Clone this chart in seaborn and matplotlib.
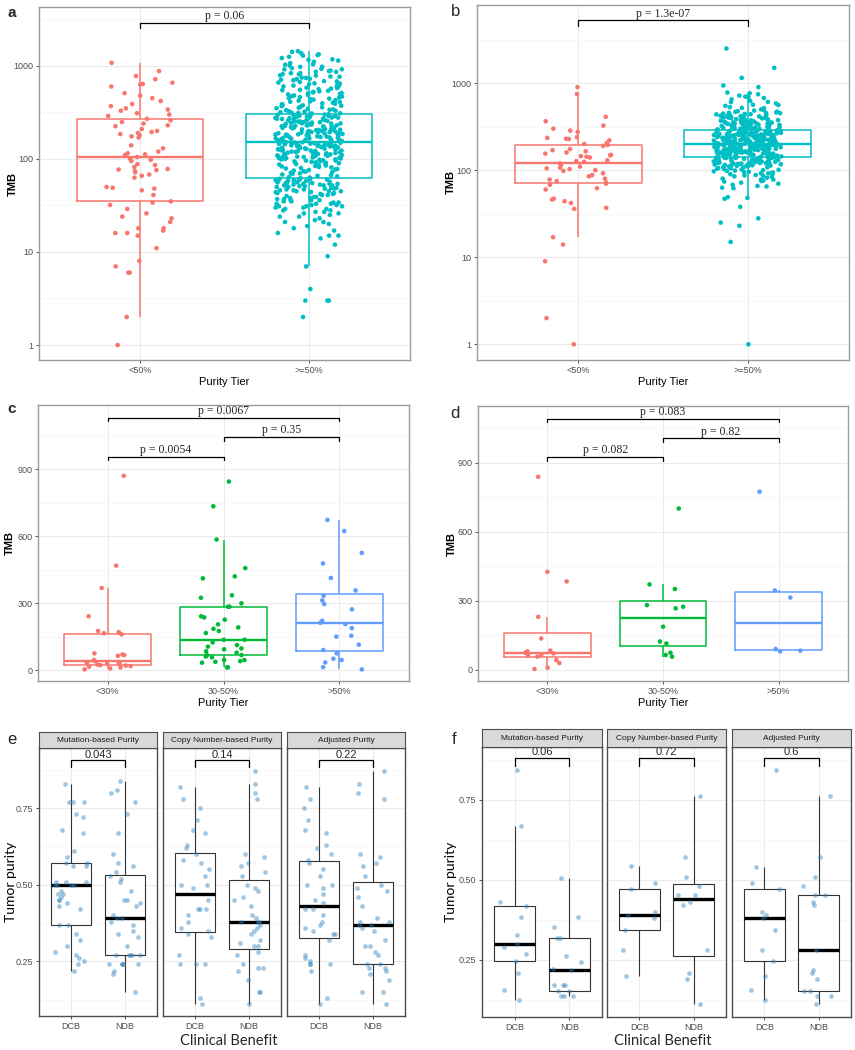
import numpy as np
import pandas as pd
import seaborn as sns
import matplotlib.pyplot as plt
from matplotlib.ticker import FixedLocator, NullFormatter

sns.set_theme(style="white")
plt.rcParams["font.family"] = ["Liberation Sans", "DejaVu Sans"]
np.random.seed(7)

# ---------------- data ----------------
# a: TMB by purity tier (cohort 1)
tiers_2 = ["<50%", ">=50%"]
a_low = [1080, 880, 780, 720, 660, 640, 630, 600, 510, 480, 450, 420, 390, 370, 350, 340,
         330, 310, 300, 290, 270, 260, 250, 240, 230, 225, 210, 200, 195, 190, 185, 180,
         175, 170, 140, 130, 120, 115, 112, 110, 105, 100, 98, 95, 88, 86, 82, 78, 77, 76,
         74, 72, 68, 66, 63, 50, 49, 48, 46, 41, 35, 34, 32, 29, 26, 24, 23, 21, 18, 18,
         17, 16, 16, 15, 11, 8, 7, 6, 6, 2, 1]
a_high = [2, 3, 3, 3, 4, 7, 9, 12, 14, 15, 15, 16, 17, 18, 19,
          20, 21, 21, 23, 24, 24, 25, 26, 27, 27, 28, 29, 30, 30, 31,
          31, 32, 33, 33, 34, 35, 36, 36, 37, 38, 39, 40, 41, 42, 43,
          44, 45, 45, 46, 47, 48, 49, 50, 51, 52, 52, 53, 53, 54, 55,
          55, 56, 57, 57, 58, 59, 60, 61, 29, 33, 38, 41, 47, 52, 56,
          22, 26, 31, 35, 44, 49, 54, 58, 60, 34, 39, 43, 50, 53, 59,
          28, 32, 37, 42, 46, 51, 54, 57, 61, 36, 45, 48, 55, 58, 60,
          62, 64, 65, 67, 68, 70, 71, 73, 75, 76, 78, 80, 82, 84, 85,
          87, 89, 90, 92, 94, 95, 97, 98, 100, 101, 103, 105, 107, 108, 110,
          112, 113, 115, 117, 119, 120, 122, 124, 126, 128, 130, 132, 134, 136, 138,
          140, 142, 144, 146, 148, 150, 63, 66, 69, 72, 74, 77, 81, 83, 86,
          88, 91, 93, 96, 99, 102, 104, 106, 109, 111, 114, 116, 118, 121, 123,
          125, 127, 129, 131, 133, 135, 137, 139, 141, 143, 145, 147, 149, 151, 79,
          91, 96, 102, 108, 114, 118, 123, 127, 133, 137, 141, 146, 99, 104, 112,
          152, 155, 158, 160, 163, 166, 168, 171, 174, 177, 180, 183, 186, 189, 192,
          195, 198, 201, 204, 208, 211, 214, 218, 221, 225, 228, 232, 236, 240, 244,
          248, 252, 256, 260, 265, 269, 274, 278, 283, 288, 293, 298, 303, 157, 162,
          167, 172, 178, 184, 190, 196, 203, 210, 216, 223, 230, 238, 246, 254, 262,
          271, 280, 290, 300, 154, 159, 165, 170, 176, 182, 188, 194, 200, 206, 213,
          220, 227, 234, 242, 250, 258, 267, 276, 286, 296, 161, 169, 181, 193, 205,
          217, 229, 241, 253, 266, 279, 292, 156, 175, 199, 224, 249, 272, 297, 185,
          308, 315, 322, 330, 338, 346, 355, 364, 373, 382, 392, 402, 412, 423, 434,
          445, 457, 469, 481, 494, 507, 520, 534, 548, 563, 578, 594, 610, 627, 645,
          663, 682, 702, 722, 743, 765, 788, 812, 837, 863, 890, 918, 947, 977, 1008,
          1040, 1073, 1107, 1142, 1178, 1215, 1253, 1292, 1332, 1373, 1415, 312, 326, 341, 359,
          377, 396, 416, 438, 461, 486, 512, 540, 570, 602, 636, 672, 710, 750, 792,
          836, 882, 930, 980, 318, 334, 351, 369, 388, 408, 429, 451, 474, 499, 525,
          553, 583, 615, 650, 687, 727, 770, 816, 866, 920, 1030, 1160, 1310, 1440, 310]

# b: TMB by purity tier (cohort 2)
b_low = [900, 750, 410, 365, 325, 300, 285, 275, 240, 235, 230, 228, 220, 205, 200, 195,
         190, 175, 170, 165, 160, 155, 150, 148, 145, 143, 140, 130, 127, 125, 120, 115,
         110, 107, 105, 103, 100, 98, 92, 88, 85, 80, 78, 75, 72, 70, 68, 62, 60, 47, 46,
         44, 42, 37, 36, 17, 14, 9, 2, 1]
b_high = [1, 15, 23, 25, 28, 38, 47, 48, 49, 62, 63, 65, 68, 70, 72,
          74, 75, 76, 78, 80, 82, 84, 85, 87, 88, 90, 91, 92, 93, 95,
          96, 98, 99, 100, 101, 103, 104, 106, 107, 108, 110, 111, 112, 113, 115,
          116, 117, 118, 119, 120, 121, 122, 123, 124, 125, 126, 127, 128, 129, 130,
          131, 132, 133, 134, 135, 136, 137, 138, 139, 140, 66, 78, 86, 94, 102,
          109, 114, 118, 122, 126, 129, 133, 137, 92, 105, 112, 120, 124, 128, 135,
          139, 97, 117, 131, 138, 140, 127, 119, 114, 108,
          141, 143, 144, 146, 147, 149, 150, 152, 153, 155, 156, 158, 159, 161, 162,
          164, 165, 167, 168, 170, 171, 173, 174, 176, 177, 179, 180, 182, 183, 185,
          186, 188, 189, 191, 192, 194, 195, 197, 142, 145, 148, 151, 154, 157, 160,
          163, 166, 169, 172, 175, 178, 181, 184, 187, 190, 193, 196, 143, 147, 152,
          156, 161, 165, 170, 174, 179, 183, 188, 192, 196, 144, 149, 154, 158, 163,
          168, 172, 177, 181, 186, 190, 195, 146, 153, 159, 166, 173, 180, 187, 194,
          150, 162, 175, 184, 191, 157, 171, 189, 148, 178,
          198, 200, 202, 204, 206, 208, 210, 212, 214, 216, 218, 220, 222, 224, 226,
          228, 230, 232, 235, 237, 239, 242, 244, 247, 249, 252, 254, 257, 260, 262,
          265, 268, 271, 274, 277, 280, 283, 286, 289, 199, 203, 207, 211, 215, 219,
          223, 227, 231, 236, 240, 245, 250, 255, 259, 264, 269, 275, 281, 287, 201,
          205, 209, 213, 217, 221, 225, 229, 234, 238, 243, 248, 253, 258, 263, 270,
          276, 282, 288, 200, 211, 222, 233, 246, 256, 267, 279, 290, 206, 218, 241,
          261, 285, 214, 229, 251, 272, 226, 239, 266, 284,
          293, 296, 299, 302, 305, 309, 312, 316, 319, 323, 327, 331, 335, 339, 343,
          347, 352, 356, 361, 366, 371, 376, 381, 386, 392, 397, 403, 409, 415, 421,
          427, 434, 440, 447, 454, 461, 468, 476, 484, 492, 294, 300, 307, 314, 321,
          329, 337, 345, 354, 363, 373, 383, 394, 405, 417, 430, 443, 457, 471, 297,
          304, 311, 318, 326, 334, 342, 350, 359, 368, 378, 389, 400, 412, 425, 438,
          500, 515, 530, 548, 565, 585, 605, 625, 650, 675, 700, 720, 745, 765, 780,
          520, 560, 610, 690, 900, 940, 1150, 1500, 2500, 452]

# c, d: TMB by three purity tiers
tiers_3 = ["<30%", "30-50%", ">50%"]
c_lt30 = [871, 468, 368, 241, 175, 170, 165, 160, 75, 70, 67, 64, 45, 40, 36, 34, 33, 30,
          28, 25, 22, 20, 18, 15, 12, 7, 3]
c_30_50 = [845, 734, 585, 457, 420, 411, 335, 324, 299, 284, 284, 241, 236, 226, 205, 191,
           185, 175, 166, 136, 136, 124, 112, 105, 97, 93, 84, 78, 67, 67, 61, 57, 45, 45,
           40, 37, 33, 12, 12]
c_gt50 = [673, 623, 525, 478, 413, 357, 333, 312, 296, 272, 221, 212, 206, 188, 154, 150,
          114, 90, 75, 51, 45, 34, 13, 3]
d_lt30 = [839, 426, 384, 230, 136, 83, 80, 74, 71, 66, 62, 57, 42, 29, 9, 3]
d_30_50 = [701, 371, 351, 281, 274, 267, 187, 123, 114, 74, 64, 57]
d_gt50 = [774, 345, 314, 90, 83, 80]

# e, f: tumor purity by clinical benefit
benefit = ["DCB", "NDB"]
purity_types = ["Mutation-based Purity", "Copy Number-based Purity", "Adjusted Purity"]
e_mut_dcb = [0.83, 0.77, 0.77, 0.77, 0.73, 0.72, 0.68, 0.67, 0.61, 0.59, 0.57, 0.57, 0.56,
             0.56, 0.51, 0.51, 0.51, 0.50, 0.50, 0.50, 0.50, 0.48, 0.47, 0.47, 0.46, 0.45,
             0.45, 0.44, 0.43, 0.42, 0.37, 0.37, 0.34, 0.32, 0.30, 0.28, 0.27, 0.26, 0.25,
             0.24, 0.22]
e_mut_ndb = [0.84, 0.81, 0.80, 0.77, 0.73, 0.67, 0.60, 0.57, 0.56, 0.54, 0.53, 0.52, 0.51,
             0.48, 0.45, 0.45, 0.44, 0.43, 0.40, 0.39, 0.39, 0.38, 0.37, 0.35, 0.34, 0.33,
             0.30, 0.27, 0.27, 0.27, 0.27, 0.27, 0.24, 0.24, 0.24, 0.24, 0.24, 0.22, 0.21,
             0.15]
e_cn_dcb = [0.82, 0.78, 0.75, 0.71, 0.68, 0.67, 0.63, 0.62, 0.60, 0.58, 0.57, 0.55, 0.53,
            0.50, 0.50, 0.49, 0.45, 0.42, 0.42, 0.42, 0.40, 0.38, 0.36, 0.35, 0.34, 0.33,
            0.27, 0.24, 0.24, 0.24, 0.13, 0.11]
e_cn_ndb = [0.87, 0.83, 0.80, 0.78, 0.60, 0.59, 0.57, 0.56, 0.54, 0.53, 0.50, 0.49, 0.48,
            0.46, 0.45, 0.43, 0.40, 0.39, 0.38, 0.38, 0.38, 0.37, 0.36, 0.35, 0.34, 0.32,
            0.31, 0.30, 0.30, 0.28, 0.27, 0.24, 0.23, 0.23, 0.22, 0.19, 0.15, 0.15, 0.11]
e_adj_dcb = [0.82, 0.78, 0.75, 0.71, 0.68, 0.67, 0.63, 0.62, 0.60, 0.58, 0.57, 0.55, 0.53,
             0.50, 0.50, 0.49, 0.47, 0.45, 0.44, 0.42, 0.42, 0.40, 0.38, 0.37, 0.36, 0.35,
             0.34, 0.34, 0.32, 0.27, 0.26, 0.25, 0.24, 0.24, 0.24, 0.22, 0.13, 0.11]
e_adj_ndb = [0.87, 0.83, 0.80, 0.78, 0.60, 0.59, 0.57, 0.56, 0.53, 0.50, 0.49, 0.48, 0.46,
             0.43, 0.39, 0.38, 0.38, 0.37, 0.37, 0.36, 0.35, 0.32, 0.30, 0.30, 0.28, 0.27,
             0.24, 0.24, 0.23, 0.23, 0.22, 0.21, 0.19, 0.15, 0.15, 0.11]
f_mut_dcb = [0.843, 0.667, 0.432, 0.417, 0.383, 0.328, 0.30, 0.29, 0.27, 0.247, 0.209, 0.157, 0.125]
f_mut_ndb = [0.505, 0.383, 0.353, 0.318, 0.318, 0.262, 0.242, 0.223, 0.219, 0.172, 0.172,
             0.172, 0.154, 0.154, 0.136, 0.136, 0.136]
f_cn_dcb = [0.542, 0.49, 0.47, 0.40, 0.39, 0.38, 0.342, 0.28, 0.20]
f_cn_ndb = [0.76, 0.571, 0.51, 0.48, 0.451, 0.451, 0.431, 0.421, 0.28, 0.21, 0.191, 0.112]
f_adj_dcb = [0.843, 0.54, 0.49, 0.47, 0.40, 0.39, 0.38, 0.342, 0.28, 0.247, 0.20, 0.157, 0.125]
f_adj_ndb = [0.76, 0.571, 0.51, 0.48, 0.451, 0.451, 0.431, 0.421, 0.28, 0.219, 0.21, 0.191,
             0.154, 0.154, 0.136, 0.139, 0.112]

# p-values shown on brackets
p_a, p_b = "p = 0.06", "p = 1.3e-07"
p_c = ["p = 0.0054", "p = 0.35", "p = 0.0067"]
p_d = ["p = 0.082", "p = 0.82", "p = 0.083"]
p_e = ["0.043", "0.14", "0.22"]
p_f = ["0.06", "0.72", "0.6"]

pal2 = ["#F8766D", "#00BFC4"]
pal3 = ["#F8766D", "#00BA38", "#619CFF"]

# ---------------- figure ----------------
W, H = 855, 1050
fig = plt.figure(figsize=(W / 100, H / 100), dpi=100)


def px_axes(l, t, r, b):
    return fig.add_axes([l / W, 1 - b / H, (r - l) / W, (b - t) / H])


def style(ax, edge, minor):
    ax.set_facecolor("white")
    for s in ax.spines.values():
        s.set_visible(True)
        s.set_color(edge)
        s.set_linewidth(1.0)
    ax.set_axisbelow(True)
    ax.yaxis.set_minor_locator(FixedLocator(minor))
    ax.yaxis.set_minor_formatter(NullFormatter())
    ax.grid(True, which="major", color="#ebebeb", lw=0.8)
    ax.grid(True, which="minor", axis="y", color="#f5f5f5", lw=0.5)
    ax.tick_params(which="major", length=2.5, width=0.6, color="#333333", labelsize=6.5,
                   labelcolor="#4d4d4d", pad=1.5, left=True, bottom=True)
    ax.tick_params(which="minor", length=0)


def bracket(ax, i, j, y, tip, label, family, size):
    ax.plot([i, i, j, j], [tip, y, y, tip], color="black", lw=0.9)
    ax.annotate(label, xy=((i + j) / 2, y), xytext=(0, 0.4), textcoords="offset points",
                ha="center", va="bottom", fontsize=size, family=family)


def tmb_panel(ax, groups, values, colors, log, label_right, l, r):
    df = pd.DataFrame({"tier": np.repeat(groups, [len(v) for v in values]),
                       "tmb": np.concatenate(values)})
    kw = dict(data=df, x="tier", y="tmb", hue="tier", order=groups, hue_order=groups,
              palette=colors, legend=False, ax=ax)
    if log:
        kw["log_scale"] = True
    sns.boxplot(**kw, fill=False, width=0.75, linewidth=1.1, showfliers=False,
                showcaps=False, medianprops={"linewidth": 1.7})
    sns.stripplot(**kw, jitter=0.2, size=3.3, linewidth=0)
    ax.set_xlim(-0.6, len(groups) - 0.4)
    ax.set_xlabel("Purity Tier", fontsize=8, color="black", labelpad=2)
    ax.set_ylabel("TMB", fontsize=8, color="black", fontweight="bold")
    ax.yaxis.set_label_coords((label_right - l) / (r - l), 0.5)


serif = ["Liberation Serif", "DejaVu Serif"]

# a
ax = px_axes(39, 7, 410, 360)
tmb_panel(ax, tiers_2, [a_low, a_high], pal2, True, 18, 39, 410)
ax.set_ylim(0.69, 4300)
ax.set_yticks([1, 10, 100, 1000], labels=["1", "10", "100", "1000"])
style(ax, "#9a9a9a", [10 ** (k + 0.5) for k in range(4)])
bracket(ax, 0, 1, 2900, 2570, p_a, serif, 8.5)

# b
ax = px_axes(477, 5, 849, 360)
tmb_panel(ax, tiers_2, [b_low, b_high], pal2, True, 456, 477, 849)
ax.set_ylim(0.66, 7900)
ax.set_yticks([1, 10, 100, 1000], labels=["1", "10", "100", "1000"])
style(ax, "#9a9a9a", [10 ** (k + 0.5) for k in range(4)])
bracket(ax, 0, 1, 5250, 4560, p_b, serif, 8.5)

# c
ax = px_axes(38, 405, 409, 681)
tmb_panel(ax, tiers_3, [c_lt30, c_30_50, c_gt50], pal3, False, 15, 38, 409)
ax.set_ylim(-49, 1188)
ax.set_yticks([0, 300, 600, 900])
style(ax, "#9a9a9a", [150, 450, 750, 1050])
bracket(ax, 0, 1, 957, 940, p_c[0], serif, 8.5)
bracket(ax, 1, 2, 1045, 1028, p_c[1], serif, 8.5)
bracket(ax, 0, 2, 1131, 1117, p_c[2], serif, 8.5)

# d
ax = px_axes(478, 406, 848, 681)
tmb_panel(ax, tiers_3, [d_lt30, d_30_50, d_gt50], pal3, False, 457, 478, 848)
ax.set_ylim(-49, 1147)
ax.set_yticks([0, 300, 600, 900])
style(ax, "#9a9a9a", [150, 450, 750, 1050])
bracket(ax, 0, 1, 925, 907, p_d[0], serif, 8.5)
bracket(ax, 1, 2, 1007, 991, p_d[1], serif, 8.5)
bracket(ax, 0, 2, 1091, 1077, p_d[2], serif, 8.5)


def purity_panel(ax, dcb, ndb, label_x, ylim):
    df = pd.DataFrame({"benefit": ["DCB"] * len(dcb) + ["NDB"] * len(ndb),
                       "purity": dcb + ndb})
    sns.boxplot(data=df, x="benefit", y="purity", order=benefit, color="white",
                linecolor="#333333", linewidth=0.8, width=0.75, showfliers=False,
                showcaps=False, medianprops={"color": "black", "linewidth": 2.4}, ax=ax)
    sns.stripplot(data=df, x="benefit", y="purity", order=benefit, color="#3182bd",
                  alpha=0.45, size=3.4, jitter=0.3, linewidth=0, ax=ax)
    ax.set_xlim(-0.6, 1.6)
    ax.set_ylim(*ylim)
    ax.set_yticks([0.25, 0.50, 0.75], labels=["0.25", "0.50", "0.75"])
    style(ax, "#4d4d4d", [0.125, 0.375, 0.625, 0.875])
    ax.set_xlabel("")
    if label_x is not None:
        ax.set_ylabel("Tumor purity", fontsize=10, family=["Lato", "DejaVu Sans"],
                      color="black")
        ax.yaxis.set_label_coords(label_x, 0.5)
    else:
        ax.set_ylabel("")
        ax.tick_params(left=False, labelleft=False)


def strip(l, t, r, b, label):
    sa = px_axes(l, t, r, b)
    sa.set_facecolor("#d9d9d9")
    sa.set_xticks([])
    sa.set_yticks([])
    for s in sa.spines.values():
        s.set_visible(True)
        s.set_color("#4d4d4d")
        s.set_linewidth(0.8)
    sa.text(0.5, 0.5, label, transform=sa.transAxes, ha="center", va="center",
            fontsize=6, color="#1a1a1a")


# e
e_data = [(e_mut_dcb, e_mut_ndb), (e_cn_dcb, e_cn_ndb), (e_adj_dcb, e_adj_ndb)]
e_cols = [(39, 157), (163, 281), (287, 405)]
for k, ((l, r), (dcb, ndb)) in enumerate(zip(e_cols, e_data)):
    ax = px_axes(l, 748, r, 1016)
    purity_panel(ax, dcb, ndb, (17 - l) / (r - l) if k == 0 else None, (0.072, 0.946))
    bracket(ax, 0, 1, 0.9065, 0.885, p_e[k], ["Liberation Sans"], 8)
    strip(l, 732, r, 748, purity_types[k])

# f
f_data = [(f_mut_dcb, f_mut_ndb), (f_cn_dcb, f_cn_ndb), (f_adj_dcb, f_adj_ndb)]
f_cols = [(482, 602), (607, 726), (732, 851)]
for k, ((l, r), (dcb, ndb)) in enumerate(zip(f_cols, f_data)):
    ax = px_axes(l, 747, r, 1017)
    purity_panel(ax, dcb, ndb, (457 - l) / (r - l) if k == 0 else None, (0.072, 0.914))
    bracket(ax, 0, 1, 0.88, 0.855, p_f[k], ["Liberation Sans"], 8)
    strip(l, 729, r, 747, purity_types[k])

fig.text(229 / W, 1 - 1041 / H, "Clinical Benefit", ha="center", va="center",
         fontsize=10.5, family=["Lato", "DejaVu Sans"])
fig.text(663 / W, 1 - 1041 / H, "Clinical Benefit", ha="center", va="center",
         fontsize=10.5, family=["Lato", "DejaVu Sans"])

# panel letters
for lab, x, y, wt, fs in [("a", 12, 13, "bold", 11), ("b", 456, 12, "normal", 12),
                          ("c", 12, 409, "bold", 11), ("d", 455, 413, "normal", 12),
                          ("e", 12, 740, "normal", 12), ("f", 454, 739, "normal", 12)]:
    fig.text(x / W, 1 - y / H, lab, ha="center", va="center", fontsize=fs, fontweight=wt)

fig.savefig("out.png", dpi=100)
